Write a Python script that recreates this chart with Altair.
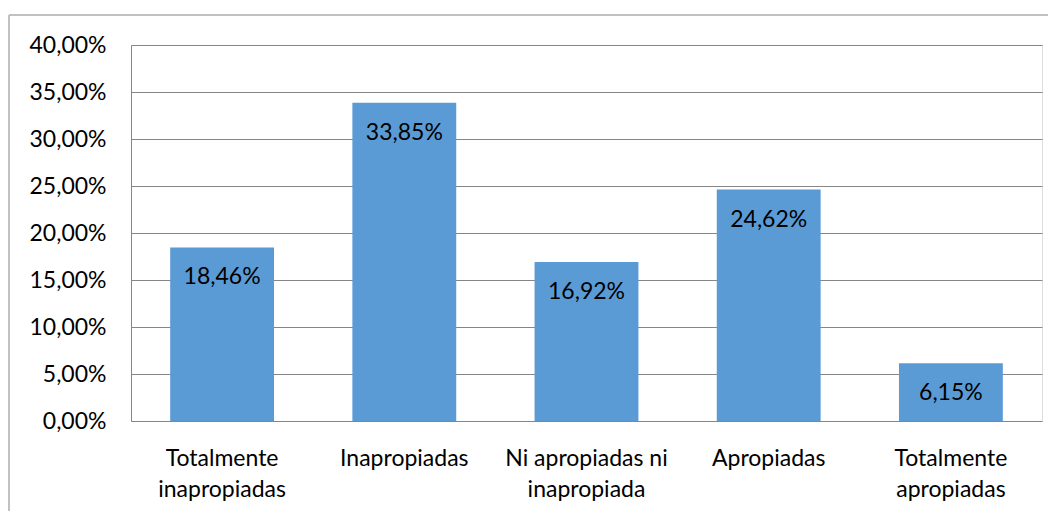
import altair as alt
import pandas as pd

categories = ["Totalmente\ninapropiadas", "Inapropiadas", "Ni apropiadas ni\ninapropiada",
              "Apropiadas", "Totalmente\napropiadas"]
values = [0.1846, 0.3385, 0.1692, 0.2462, 0.0615]

df = pd.DataFrame({"cat": categories, "val": values})

FONT = "Lato"
FS = 23

x = alt.X("cat:N", sort=categories, title=None,
          scale=alt.Scale(paddingInner=0.43, paddingOuter=0.215),
          axis=alt.Axis(labelAngle=0, labelFontSize=FS, labelFont=FONT, labelColor="#000000",
                        labelExpr="split(datum.label, '\\n')", labelLineHeight=31,
                        labelBaseline="top", labelPadding=26, ticks=False, domain=False,
                        labelLimit=300))
y = alt.Y("val:Q", title=None,
          scale=alt.Scale(domain=[0, 0.4]),
          axis=alt.Axis(values=[0, 0.05, 0.1, 0.15, 0.2, 0.25, 0.3, 0.35, 0.4],
                        labelExpr="replace(format(datum.value, '.2%'), '.', ',')",
                        labelFontSize=FS, labelFont=FONT, labelColor="#000000",
                        labelPadding=25, ticks=False, domain=True, domainColor="#868686",
                        grid=True, gridColor="#868686", gridWidth=1))

bars = alt.Chart(df).mark_bar(color="#5B9BD5").encode(x=x, y=y)

text = alt.Chart(df).transform_calculate(
    lbl="replace(format(datum.val, '.2%'), '.', ',')"
).mark_text(font=FONT, fontSize=FS, color="#000000", baseline="middle", dy=30).encode(
    x=alt.X("cat:N", sort=categories), y="val:Q", text="lbl:N")

border_top = alt.Chart(df).mark_rule(stroke="#BFBFBF", strokeWidth=1, clip=False).encode(
    x=alt.value(-122), x2=alt.value(1000), y=alt.value(-30))
border_left = alt.Chart(df).mark_rule(stroke="#BFBFBF", strokeWidth=1, clip=False).encode(
    x=alt.value(-122), y=alt.value(-30), y2=alt.value(600))

chart = alt.layer(border_top, border_left, bars, text).properties(
    width=911, height=376,
    autosize=alt.AutoSizeParams(type="none"),
    padding={"left": 123, "top": 37, "right": 6, "bottom": 90},
).configure_view(stroke=None).configure(background="white")

chart.save("out.html", embed_options={"renderer": "svg", "actions": False})
